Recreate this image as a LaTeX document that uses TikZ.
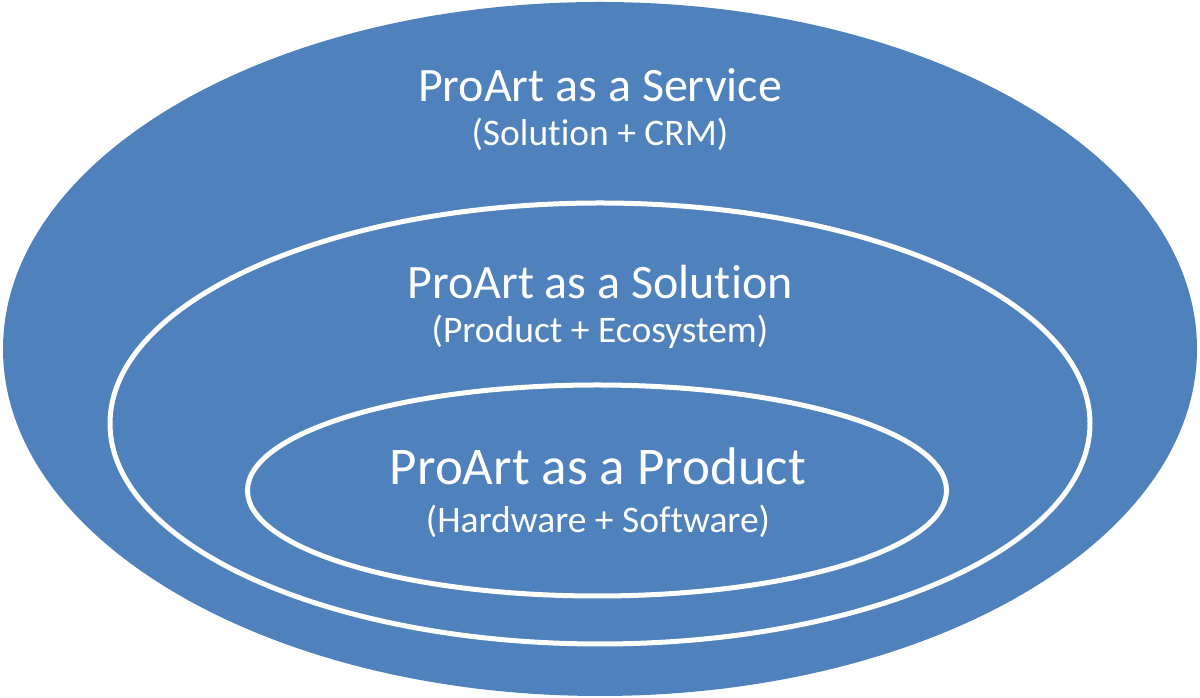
\documentclass[tikz,border=0pt]{standalone}
\usepackage{fontspec}
\setmainfont{Carlito}[Ligatures={NoCommon}]
\usetikzlibrary{shapes.geometric}
\definecolor{officeblue}{HTML}{4F81BD}
\tikzset{
  ring/.style={ellipse, inner sep=0pt, fill=officeblue},
  ringline/.style={ring, draw=white, line width=5pt},
  titletext/.style={anchor=base, text=white, inner sep=0pt, font=\fontsize{48}{56}\selectfont},
  bigtitletext/.style={anchor=base, text=white, inner sep=0pt, font=\fontsize{53}{60}\selectfont},
  subtext/.style={anchor=base, text=white, inner sep=0pt, font=\fontsize{37.5}{44}\selectfont}
}
\begin{document}
\begin{tikzpicture}[x=1pt,y=1pt]
\useasboundingbox (0,0) rectangle (1200,698);
\node[ring, minimum width=1194pt, minimum height=694pt] (outer) at (600,349) {};
\node[ringline, minimum width=980pt, minimum height=441pt] (middle) at (600,274.5) {};
\node[ringline, minimum width=699pt, minimum height=211pt] (inner) at (597,207.5) {};
\node[titletext] (t1) at (600,596) {ProArt as a Service};
\node[subtext] (s1) at (600,552) {(Solution + CRM)};
\node[titletext] (t2) at (600,399) {ProArt as a Solution};
\node[subtext] (s2) at (600,355) {(Product + Ecosystem)};
\node[bigtitletext] (t3) at (598,213) {ProArt as a Product};
\node[subtext] (s3) at (598,165) {(Hardware + Software)};
\end{tikzpicture}
\end{document}
